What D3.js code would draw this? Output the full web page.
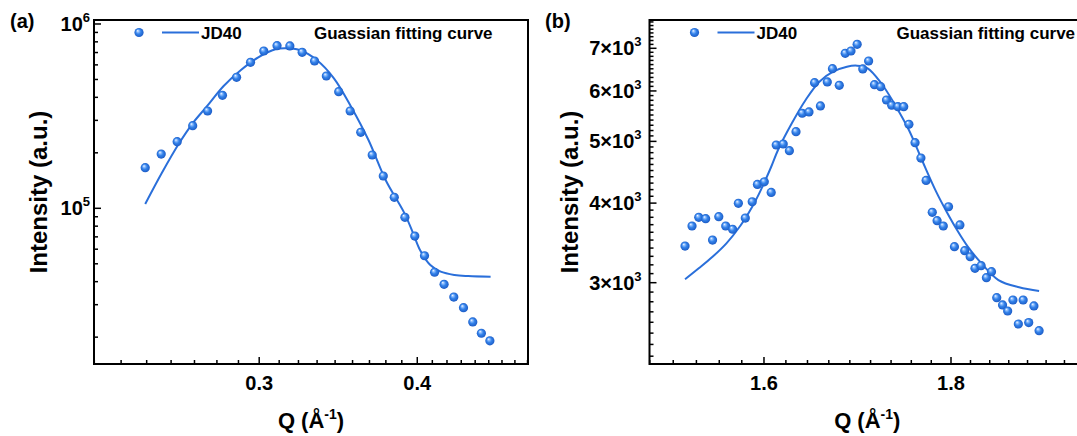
<!DOCTYPE html>
<html>
<head>
<meta charset="utf-8">
<script src="https://cdn.jsdelivr.net/npm/d3@7"></script>
<style>
  body { margin: 0; background: #fff; }
  svg { display: block; }
  text { font-family: Arial, "Liberation Sans", sans-serif; font-weight: bold; fill: #000; }
</style>
</head>
<body>
<div id="chart"></div>
<script>
// --- Data: panel (a) ---
const qA = [0.2438, 0.2510, 0.2584, 0.2658, 0.2731, 0.2806, 0.2879, 0.2953, 0.3025, 0.3099,
            0.3172, 0.3244, 0.3318, 0.3390, 0.3467, 0.3540, 0.3609, 0.3685, 0.3760, 0.3836,
            0.3911, 0.3982, 0.4053, 0.4128, 0.4200, 0.4275, 0.4351, 0.4425, 0.4495, 0.4565];
const iA = [1.661e5, 1.970e5, 2.298e5, 2.806e5, 3.373e5, 4.103e5, 5.138e5, 6.197e5, 7.137e5, 7.625e5,
            7.60e5, 7.022e5, 6.298e5, 5.222e5, 4.292e5, 3.373e5, 2.585e5, 1.946e5, 1.497e5, 1.147e5,
            8.93e4, 7.07e4, 5.53e4, 4.50e4, 3.87e4, 3.30e4, 2.89e4, 2.42e4, 2.10e4, 1.91e4];
const fitQA = [0.2438, 0.2512, 0.2593, 0.2658, 0.2726, 0.2812, 0.2902, 0.2995, 0.3090, 0.3148,
               0.3228, 0.3331, 0.3437, 0.3546, 0.3660, 0.3776, 0.3908, 0.3970, 0.4020,
               0.4096, 0.4174, 0.4280, 0.4389, 0.4571];
const fitIA = [1.055e5, 1.549e5, 2.253e5, 2.892e5, 3.558e5, 4.609e5, 5.628e5, 6.597e5, 7.29e5, 7.38e5,
               7.225e5, 6.378e5, 5.075e5, 3.558e5, 2.347e5, 1.424e5, 9.39e4, 7.32e4, 5.94e4,
               4.92e4, 4.53e4, 4.35e4, 4.29e4, 4.25e4];

// --- Data: panel (b) ---
const qB = [1.5224, 1.5291, 1.5356, 1.5423, 1.5490, 1.5551, 1.5619, 1.5687, 1.5744, 1.5813,
            1.5882, 1.5934, 1.6003, 1.6073, 1.6124, 1.6195, 1.6258, 1.6326, 1.6390, 1.6460,
            1.6518, 1.6579, 1.6651, 1.6705, 1.6777, 1.6840, 1.6901, 1.6967, 1.7027, 1.7090,
            1.7153, 1.7220, 1.7283, 1.7340, 1.7408, 1.7472, 1.7529, 1.7597, 1.7662, 1.7720,
            1.7789, 1.7843, 1.7913, 1.7972, 1.8039, 1.8101, 1.8156, 1.8219, 1.8274, 1.8345,
            1.8406, 1.8465, 1.8526, 1.8594, 1.8654, 1.8716, 1.8780, 1.8837, 1.8903, 1.8965,
            1.9027];
const iB = [3425, 3682, 3800, 3781, 3500, 3808, 3682, 3639, 3997, 3790,
            4020, 4280, 4320, 4158, 4935, 4953, 4835, 5179, 5535, 5561,
            6182, 5683, 6198, 6503, 6124, 6875, 6932, 7102, 6496, 6686,
            6138, 6093, 5807, 5698, 5669, 5669, 5319, 4976, 4708, 4342,
            3869, 3754, 3682, 3948, 3417, 3696, 3368, 3295, 3160, 3190,
            3055, 3122, 2842, 2768, 2708, 2818, 2584, 2818, 2597, 2758,
            2522];
const fitQB = [1.5224, 1.5356, 1.5490, 1.5626, 1.5762, 1.5882, 1.5968, 1.6073, 1.6142, 1.6283,
               1.6425, 1.6568, 1.6712, 1.6858, 1.6967, 1.7079, 1.7227, 1.7377, 1.7529, 1.7682,
               1.7835, 1.7952, 1.8069, 1.8187, 1.8345, 1.8546, 1.8789, 1.9027];
const fitIB = [3037, 3160, 3295, 3459, 3682, 3948, 4193, 4562, 4847, 5338,
               5807, 6204, 6433, 6550, 6574, 6512, 6169, 5704, 5210, 4645,
               4162, 3874, 3629, 3425, 3221, 3029, 2950, 2911];

// --- Ticks ---
const xTicksA = [0.3, 0.4];
const xTickLabelsA = ["0.3", "0.4"];
const yTicksA = [1e5, 1e6];
const yTickLabelsA = [["10", "5"], ["10", "6"]];
const xTicksB = [1.6, 1.8];
const xTickLabelsB = ["1.6", "1.8"];
const yTicksB = [3000, 4000, 5000, 6000, 7000];
const yTickLabelsB = [["3×10", "3"], ["4×10", "3"], ["5×10", "3"], ["6×10", "3"], ["7×10", "3"]];

const seriesName = "JD40";
const fitName = "Guassian fitting curve";

// --- Configuration ---
const width = 1077, height = 436;
const blue = "#2a6fda";

const svg = d3.select("#chart").append("svg")
    .attr("width", width)
    .attr("height", height);

// sphere-like marker fill
const grad = svg.append("defs").append("radialGradient")
    .attr("id", "ball").attr("cx", "50%").attr("cy", "50%").attr("r", "55%")
    .attr("fx", "35%").attr("fy", "30%");
grad.append("stop").attr("offset", "0%").attr("stop-color", "#ffffff");
grad.append("stop").attr("offset", "18%").attr("stop-color", "#9cc6ff");
grad.append("stop").attr("offset", "50%").attr("stop-color", "#3483ea");
grad.append("stop").attr("offset", "100%").attr("stop-color", "#1855c0");

function minorSteps(majors, step, domain) {
    const out = [];
    majors.forEach(m => {
        for (let k = 1; k <= 8; k++) out.push(m + k * step);
    });
    return out.filter(v => v > domain[0] && v < domain[1]);
}

function drawPanel(p) {
    const x = d3.scaleLog().domain(p.xDomain).range([p.left, p.right]);
    const y = d3.scaleLog().domain(p.yDomain).range([p.bottom, p.top]);
    const g = svg.append("g");

    // ticks (inward)
    const xMinor = minorSteps(p.xMajorAll, p.xStep, p.xDomain);
    g.selectAll(".xminor").data(xMinor).enter().append("line")
        .attr("x1", d => x(d)).attr("x2", d => x(d))
        .attr("y1", p.bottom).attr("y2", p.bottom - 4)
        .attr("stroke", "#000").attr("stroke-width", 1.5);
    g.selectAll(".xmajor").data(p.xTicks).enter().append("line")
        .attr("x1", d => x(d)).attr("x2", d => x(d))
        .attr("y1", p.bottom).attr("y2", p.bottom - 7)
        .attr("stroke", "#000").attr("stroke-width", 1.5);
    g.selectAll(".xlab").data(p.xTicks).enter().append("text")
        .attr("x", d => x(d)).attr("y", 390)
        .attr("text-anchor", "middle").attr("font-size", "20px")
        .text((d, i) => p.xLabels[i]);

    g.selectAll(".yminor").data(p.yMinor).enter().append("line")
        .attr("x1", p.left).attr("x2", p.left + 4)
        .attr("y1", d => y(d)).attr("y2", d => y(d))
        .attr("stroke", "#000").attr("stroke-width", 1.5);
    g.selectAll(".ymajor").data(p.yTicks).enter().append("line")
        .attr("x1", p.left).attr("x2", p.left + 7)
        .attr("y1", d => y(d)).attr("y2", d => y(d))
        .attr("stroke", "#000").attr("stroke-width", 1.5);
    const ylab = g.selectAll(".ylab").data(p.yTicks).enter().append("text")
        .attr("x", p.left - p.labelGap).attr("y", d => y(d) + 7)
        .attr("text-anchor", "end").attr("font-size", "20px");
    ylab.append("tspan").text((d, i) => p.yLabels[i][0]);
    ylab.append("tspan").attr("dy", -9).attr("font-size", "13px").text((d, i) => p.yLabels[i][1]);

    // frame
    g.append("rect")
        .attr("x", p.left).attr("y", p.top)
        .attr("width", p.right - p.left).attr("height", p.bottom - p.top)
        .attr("fill", "none").attr("stroke", "#000").attr("stroke-width", 2);

    // axis titles
    const cx = (p.left + p.right) / 2;
    const xt = g.append("text").attr("x", cx).attr("y", 428)
        .attr("text-anchor", "middle").attr("font-size", "22px");
    xt.append("tspan").text("Q (Å");
    xt.append("tspan").attr("dy", -9).attr("font-size", "14px").text("-1");
    xt.append("tspan").attr("dy", 9).text(")");

    g.append("text")
        .attr("transform", `translate(${p.titleX}, ${(p.top + p.bottom) / 2}) rotate(-90)`)
        .attr("text-anchor", "middle").attr("font-size", "24px")
        .text("Intensity (a.u.)");

    g.append("text").attr("x", p.tagX).attr("y", 28)
        .attr("font-size", "20px").text(p.tag);

    // fitted curve
    const line = d3.line()
        .x(d => x(d[0])).y(d => y(d[1]))
        .curve(d3.curveCatmullRom);
    g.append("path")
        .datum(p.fitQ.map((q, i) => [q, p.fitI[i]]))
        .attr("d", line)
        .attr("fill", "none").attr("stroke", blue).attr("stroke-width", 2);

    // points
    g.selectAll(".pt").data(p.q.map((q, i) => [q, p.i[i]])).enter().append("circle")
        .attr("cx", d => x(d[0])).attr("cy", d => y(d[1]))
        .attr("r", 4.6).attr("fill", "url(#ball)");

    // legend
    const lg = g.append("g");
    lg.append("circle").attr("cx", p.left + 45).attr("cy", 32.5).attr("r", 4.6).attr("fill", "url(#ball)");
    lg.append("line").attr("x1", p.left + 68).attr("x2", p.left + 105)
        .attr("y1", 32.5).attr("y2", 32.5).attr("stroke", blue).attr("stroke-width", 2);
    lg.append("text").attr("x", p.left + 107).attr("y", 38.5).attr("font-size", "17px").text(seriesName);
    lg.append("text").attr("x", p.left + p.fitLabelDx).attr("y", 38.5).attr("font-size", "17px").text(fitName);
}

drawPanel({
    left: 94, right: 528, top: 20, bottom: 364,
    xDomain: [0.2221, 0.4893], yDomain: [14300, 1.051e6],
    xTicks: xTicksA, xLabels: xTickLabelsA, xMajorAll: [0.2, 0.3, 0.4], xStep: 0.1 / 9,
    yTicks: yTicksA, yLabels: yTickLabelsA,
    yMinor: [2, 3, 4, 5, 6, 7, 8, 9].flatMap(k => [k * 1e4, k * 1e5]),
    labelGap: 4, titleX: 47, tag: "(a)", tagX: 10, fitLabelDx: 220,
    q: qA, i: iA, fitQ: fitQA, fitI: fitIA
});

drawPanel({
    left: 649.5, right: 1085, top: 20, bottom: 364,
    xDomain: [1.4887, 1.9585], yDomain: [2236, 7754],
    xTicks: xTicksB, xLabels: xTickLabelsB, xMajorAll: [1.4, 1.6, 1.8], xStep: 0.2 / 9,
    yTicks: yTicksB, yLabels: yTickLabelsB,
    yMinor: d3.range(2300, 7800, 100).filter(v => v % 1000 !== 0),
    labelGap: 8, titleX: 578, tag: "(b)", tagX: 545, fitLabelDx: 247,
    q: qB, i: iB, fitQ: fitQB, fitI: fitIB
});
</script>
</body>
</html>
